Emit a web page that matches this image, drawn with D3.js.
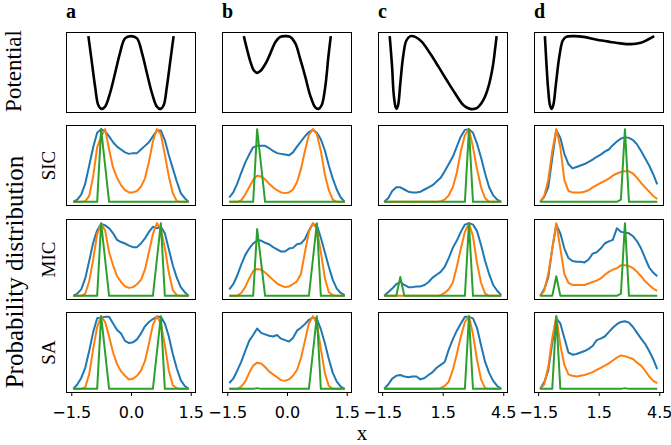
<!DOCTYPE html>
<html><head><meta charset="utf-8">
<script src="https://cdn.jsdelivr.net/npm/d3@7"></script>
<style>html,body{margin:0;padding:0;background:#fff;}svg{display:block;}</style>
</head><body>
<script>
// ---------- DATA ----------
const colTitles = ["a","b","c","d"];
const rowLabels = ["SIC","MIC","SA"];
const ticksAB = [-1.5, 0.0, 1.5];
const ticksCD = [-1.5, 1.5, 4.5];

const xAB = [-1.45,-1.35,-1.25,-1.15,-1.05,-0.95,-0.85,-0.75,-0.65,-0.55,-0.45,-0.35,-0.25,-0.15,-0.05,0.05,0.15,0.25,0.35,0.45,0.55,0.65,0.75,0.85,0.95,1.05,1.15,1.25,1.35,1.45];
const xCD = [-1.4,-1.2,-1.0,-0.8,-0.6,-0.4,-0.2,0.0,0.2,0.4,0.6,0.8,1.0,1.2,1.4,1.6,1.8,2.0,2.2,2.4,2.6,2.8,3.0,3.2,3.4,3.6,3.8,4.0,4.2,4.4];

// potentials (x, V normalised)
const potA_x = [-1.07,-0.99,-0.9,-0.82,-0.74,-0.65,-0.53,-0.4,-0.28,-0.15,0,0.15,0.28,0.4,0.53,0.65,0.74,0.82,0.9,0.99,1.07];
const potA_v = [1.0,0.67,0.3,0.05,0,0.03,0.21,0.49,0.76,0.97,1.0,0.97,0.76,0.49,0.21,0.03,0,0.05,0.3,0.67,1.0];
const potB_x = [-1.085,-1.0,-0.92,-0.835,-0.75,-0.67,-0.54,-0.42,-0.29,-0.17,-0.04,0.08,0.21,0.33,0.46,0.58,0.71,0.79,0.87,0.96,1.04,1.1];
const potB_v = [1.0,0.81,0.65,0.53,0.495,0.52,0.62,0.76,0.92,0.99,1.0,0.99,0.9,0.69,0.44,0.19,0.02,0,0.05,0.3,0.72,1.0];
const potC_x = [-1.125,-1.007,-0.93,-0.84,-0.79,-0.71,-0.6,-0.46,-0.3,-0.1,0.14,0.47,0.88,1.29,1.71,2.12,2.53,2.86,3.19,3.51,3.76,3.98,4.09,4.17];
const potC_v = [1.0,0.58,0.21,0.03,0,0.05,0.35,0.72,0.94,1.0,0.99,0.92,0.76,0.58,0.39,0.21,0.05,0,0.01,0.12,0.3,0.58,0.81,1.0];
const potD_x = [-1.165,-1.08,-1.0,-0.915,-0.83,-0.75,-0.615,-0.45,-0.28,-0.115,0.25,0.75,1.42,2.085,2.585,3.085,3.585,3.92,4.25];
const potD_v = [1.0,0.58,0.26,0.05,0,0.05,0.35,0.72,0.94,0.99,1.0,0.99,0.95,0.92,0.9,0.89,0.91,0.95,1.0];

// column a
const sicA_blue   = [0,0.03,0.1,0.25,0.5,0.75,0.95,1.0,0.97,0.9,0.82,0.76,0.72,0.68,0.66,0.67,0.67,0.72,0.77,0.82,0.9,0.98,0.98,0.85,0.64,0.46,0.28,0.12,0.05,0];
const sicA_orange = [0,0,0,0.01,0.08,0.35,0.75,0.9,1.0,0.72,0.47,0.33,0.23,0.16,0.13,0.13,0.15,0.21,0.32,0.55,0.83,1.0,0.93,0.65,0.35,0.12,0.01,0,0,0];
const sicA_green  = [0,0,0,0,0,0,0,1,0.5,0,0,0,0,0,0,0,0,0,0,0,0,0,0,0,0,0,0,0,0,0];
const micA_blue   = [0,0.03,0.09,0.24,0.48,0.73,0.9,0.99,0.97,0.93,0.86,0.77,0.74,0.72,0.69,0.67,0.67,0.72,0.79,0.88,0.95,0.93,0.95,0.86,0.64,0.42,0.25,0.12,0.05,0];
const micA_orange = [0,0,0,0.03,0.2,0.5,0.85,0.99,0.9,0.6,0.42,0.27,0.19,0.13,0.11,0.12,0.16,0.22,0.36,0.6,0.85,1.0,0.92,0.66,0.32,0.08,0.01,0,0,0];
const micA_green  = [0,0,0,0,0,0,0,1,0.5,0,0,0,0,0,0,0,0,0,0,0,0,0.5,1,0,0,0,0,0,0,0];
const saA_blue    = [0,0.06,0.15,0.29,0.52,0.78,0.97,0.98,0.99,0.99,0.9,0.81,0.76,0.66,0.63,0.64,0.68,0.76,0.86,0.92,0.96,0.99,0.99,0.9,0.72,0.48,0.28,0.12,0.04,0];
const saA_orange  = [0,0,0,0.02,0.2,0.55,0.85,1.0,0.92,0.72,0.5,0.34,0.24,0.18,0.13,0.14,0.18,0.25,0.38,0.62,0.88,1.0,0.9,0.6,0.25,0.05,0.01,0,0,0];
const saA_green   = [0,0,0,0,0,0,0,1,0.5,0,0,0,0,0,0,0,0,0,0,0,0,0.5,1,0,0,0,0,0,0,0];
// column b
const sicB_blue   = [0.06,0.13,0.25,0.4,0.54,0.65,0.75,0.77,0.77,0.77,0.74,0.7,0.67,0.66,0.65,0.64,0.68,0.76,0.83,0.9,0.96,0.99,0.95,0.86,0.71,0.5,0.32,0.17,0.06,0];
const sicB_orange = [0,0,0,0.02,0.1,0.2,0.3,0.36,0.35,0.31,0.25,0.2,0.16,0.13,0.12,0.13,0.17,0.27,0.45,0.7,0.92,1.0,0.93,0.7,0.38,0.16,0.03,0,0,0];
const sicB_green  = [0,0,0,0,0,0,0,1,0.5,0,0,0,0,0,0,0,0,0,0,0,0,0,0,0,0,0,0,0,0,0];
const micB_blue   = [0.09,0.16,0.28,0.43,0.56,0.65,0.72,0.76,0.76,0.73,0.71,0.67,0.64,0.61,0.61,0.65,0.66,0.71,0.72,0.78,0.9,0.99,0.97,0.8,0.6,0.4,0.22,0.1,0.04,0.01];
const micB_orange = [0,0,0,0.04,0.12,0.24,0.34,0.37,0.36,0.32,0.27,0.22,0.17,0.14,0.12,0.13,0.16,0.2,0.3,0.6,0.88,1.0,0.92,0.6,0.25,0.05,0.01,0,0,0];
const micB_green  = [0,0,0,0,0,0,0,0.92,0.46,0,0,0,0,0,0,0,0,0,0,0,0,0.5,1,0,0,0,0,0,0,0];
const saB_blue    = [0.08,0.14,0.25,0.37,0.52,0.66,0.74,0.83,0.77,0.75,0.73,0.72,0.74,0.69,0.67,0.65,0.7,0.8,0.84,0.89,0.95,0.98,0.96,0.82,0.63,0.41,0.22,0.1,0.03,0];
const saB_orange  = [0,0,0,0.03,0.1,0.22,0.32,0.36,0.35,0.3,0.24,0.2,0.16,0.12,0.11,0.13,0.18,0.26,0.42,0.66,0.9,1.0,0.9,0.55,0.22,0.04,0,0,0,0];
const saB_green   = [0,0,0,0,0,0,0,0.01,0,0,0,0,0,0,0,0,0,0,0,0,0,0.5,1,0,0,0,0,0,0,0];
// column c
const sicC_blue   = [0,0.05,0.15,0.2,0.2,0.17,0.14,0.13,0.13,0.14,0.17,0.2,0.23,0.28,0.33,0.42,0.52,0.62,0.76,0.9,0.99,1.0,0.95,0.8,0.61,0.39,0.2,0.09,0.03,0];
const sicC_orange = [0,0,0,0,0,0,0,0,0,0,0,0,0,0,0.01,0.03,0.09,0.2,0.4,0.7,0.92,1.0,0.75,0.45,0.2,0.05,0,0,0,0];
const sicC_green  = [0,0,0,0,0,0,0,0,0,0,0,0,0,0,0,0,0,0,0,0,0,1,0,0,0,0,0,0,0,0];
const micC_blue   = [0,0.05,0.1,0.16,0.19,0.15,0.12,0.12,0.13,0.13,0.15,0.19,0.25,0.29,0.33,0.4,0.52,0.66,0.76,0.88,0.98,1.0,0.98,0.89,0.7,0.48,0.3,0.15,0.07,0.01];
const micC_orange = [0,0,0,0,0,0,0,0,0,0,0,0,0,0,0.01,0.04,0.09,0.18,0.4,0.65,0.88,1.0,0.82,0.45,0.18,0.03,0,0,0,0];
const micC_green  = [0,0,0,0,0.26,0,0,0,0,0,0,0,0,0,0,0,0,0,0,0,0,1,0,0,0,0,0,0,0,0];
const saC_blue    = [0,0.06,0.14,0.18,0.19,0.17,0.16,0.17,0.17,0.13,0.15,0.19,0.23,0.29,0.33,0.37,0.54,0.68,0.8,0.9,0.99,0.99,0.97,0.84,0.6,0.37,0.22,0.11,0.04,0];
const saC_orange  = [0,0,0,0,0,0,0,0,0,0,0,0,0,0,0.01,0.04,0.1,0.26,0.48,0.72,0.92,1.0,0.75,0.4,0.13,0.01,0,0,0,0];
const saC_green   = [0,0,0,0,0,0,0,0,0,0,0,0,0,0,0,0,0,0,0,0,0,1,0,0,0,0,0,0,0,0];
// column d
const sicD_blue   = [0,0.07,0.2,0.6,0.99,0.88,0.66,0.52,0.46,0.48,0.5,0.52,0.55,0.58,0.62,0.65,0.69,0.72,0.78,0.83,0.87,0.89,0.88,0.85,0.79,0.7,0.6,0.5,0.38,0.24];
const sicD_orange = [0,0.08,0.3,0.7,1.0,0.75,0.3,0.15,0.13,0.13,0.13,0.14,0.16,0.2,0.23,0.26,0.29,0.32,0.36,0.39,0.41,0.42,0.42,0.39,0.33,0.26,0.2,0.14,0.08,0.04];
const sicD_green  = [0,0,0,0,0,0,0,0,0,0,0,0,0,0,0,0,0,0,0,0,0.03,1,0,0,0,0,0,0,0,0];
const micD_blue   = [0,0.09,0.25,0.65,0.98,0.86,0.65,0.52,0.48,0.47,0.47,0.46,0.5,0.58,0.6,0.65,0.72,0.75,0.77,0.93,0.88,0.87,0.86,0.82,0.75,0.65,0.52,0.39,0.32,0.27];
const micD_orange = [0,0.07,0.3,0.65,1.0,0.65,0.3,0.18,0.15,0.15,0.15,0.15,0.17,0.19,0.21,0.24,0.29,0.33,0.36,0.38,0.42,0.42,0.41,0.38,0.33,0.27,0.2,0.15,0.1,0.07];
const micD_green  = [0,0,0,0,0.27,0,0,0,0,0,0,0,0,0,0,0,0,0,0,0,0.03,1,0,0,0,0,0,0,0,0];
const saD_blue    = [0,0.09,0.25,0.63,0.97,0.9,0.7,0.5,0.47,0.48,0.5,0.52,0.55,0.59,0.67,0.69,0.72,0.78,0.84,0.89,0.92,0.93,0.91,0.85,0.77,0.69,0.62,0.52,0.41,0.27];
const saD_orange  = [0,0.06,0.3,0.7,1.0,0.6,0.33,0.2,0.18,0.17,0.18,0.19,0.21,0.23,0.26,0.29,0.32,0.35,0.39,0.43,0.46,0.45,0.43,0.41,0.36,0.32,0.25,0.17,0.11,0.08];
const saD_green   = [0,0,0,0,1,0,0,0,0,0,0,0,0,0,0,0,0,0,0,0,0,0.01,0,0,0,0,0,0,0,0];

// ---------- ASSEMBLY ----------
const potentials = [[potA_x,potA_v],[potB_x,potB_v],[potC_x,potC_v],[potD_x,potD_v]];
const dists = [
  [[sicA_blue,sicA_orange,sicA_green],[sicB_blue,sicB_orange,sicB_green],[sicC_blue,sicC_orange,sicC_green],[sicD_blue,sicD_orange,sicD_green]],
  [[micA_blue,micA_orange,micA_green],[micB_blue,micB_orange,micB_green],[micC_blue,micC_orange,micC_green],[micD_blue,micD_orange,micD_green]],
  [[saA_blue,saA_orange,saA_green],[saB_blue,saB_orange,saB_green],[saC_blue,saC_orange,saC_green],[saD_blue,saD_orange,saD_green]]
];
const colGrid = [xAB, xAB, xCD, xCD];
const colTicks = [ticksAB, ticksAB, ticksCD, ticksCD];
const colors = ["#1f77b4","#ff7f0e","#2ca02c"];

const W = 671, H = 445;
const colLeft = [66.5, 222.5, 378.5, 534.5];
const pW = 129;
const rowTop = [32.5, 125.5, 219.5, 312.5];
const pH = 80;
const colDomain = [[-1.62,1.62],[-1.62,1.62],[-1.68,4.71],[-1.68,4.71]];

const svg = d3.select("body").append("svg").attr("width",W).attr("height",H);
svg.append("rect").attr("width",W).attr("height",H).attr("fill","#fff");
const defs = svg.append("defs");
const fmt = d => d3.format(".1f")(d).replace("-","\u2212");

for (let c=0;c<4;c++){
  const x = d3.scaleLinear().domain(colDomain[c]).range([colLeft[c], colLeft[c]+pW]);
  for (let r=0;r<4;r++){
    const y = d3.scaleLinear().domain([-0.05,1.05]).range([rowTop[r]+pH, rowTop[r]]);
    const id = `clip${c}${r}`;
    defs.append("clipPath").attr("id",id).append("rect")
      .attr("x",colLeft[c]).attr("y",rowTop[r]).attr("width",pW).attr("height",pH);
    const g = svg.append("g");
    const gc = g.append("g").attr("clip-path",`url(#${id})`);
    if (r===0){
      const [px,pv] = potentials[c];
      const line = d3.line().x((d,i)=>x(px[i])).y(d=>y(d)).curve(d3.curveCatmullRom.alpha(0.5));
      gc.append("path").attr("d",line(pv)).attr("fill","none").attr("stroke","#000")
        .attr("stroke-width",2.6).attr("stroke-linejoin","round");
    } else {
      const grid = colGrid[c];
      const line = d3.line().x((d,i)=>x(grid[i])).y(d=>y(d));
      dists[r-1][c].forEach((s,k)=>{
        gc.append("path").attr("d",line(s)).attr("fill","none").attr("stroke",colors[k])
          .attr("stroke-width",2).attr("stroke-linejoin","round");
      });
    }
    g.append("rect").attr("x",colLeft[c]).attr("y",rowTop[r]).attr("width",pW).attr("height",pH)
      .attr("fill","none").attr("stroke","#000").attr("stroke-width",1);
    if (r===3){
      const ax = g.append("g").attr("transform",`translate(0,${rowTop[r]+pH})`)
        .call(d3.axisBottom(x).tickValues(colTicks[c]).tickSize(3.5).tickPadding(11).tickFormat(fmt));
      ax.select(".domain").remove();
      ax.selectAll("line").attr("stroke","#000").attr("stroke-width",1);
      ax.selectAll("text").attr("font-family","DejaVu Sans").attr("font-size",16).attr("fill","#000");
    }
  }
  svg.append("text").attr("x",colLeft[c]-0.5).attr("y",17.5).text(colTitles[c])
    .attr("font-family","Liberation Serif").attr("font-weight","bold").attr("font-size",20);
}
rowLabels.forEach((t,i)=>{
  const cy = rowTop[i+1]+pH/2;
  svg.append("text").attr("transform",`translate(55,${cy}) rotate(-90)`).attr("text-anchor","middle")
    .attr("font-family","Liberation Serif").attr("font-size",19).text(t);
});
svg.append("text").attr("transform",`translate(21,71) rotate(-90)`).attr("text-anchor","middle")
  .attr("font-family","Liberation Serif").attr("font-size",23).text("Potential");
svg.append("text").attr("transform",`translate(22.5,272) rotate(-90)`).attr("text-anchor","middle")
  .attr("font-family","Liberation Serif").attr("font-size",25).text("Probability distribution");
svg.append("text").attr("x",362).attr("y",440).attr("text-anchor","middle")
  .attr("font-family","Liberation Serif").attr("font-size",21).text("x");
</script>
</body></html>
